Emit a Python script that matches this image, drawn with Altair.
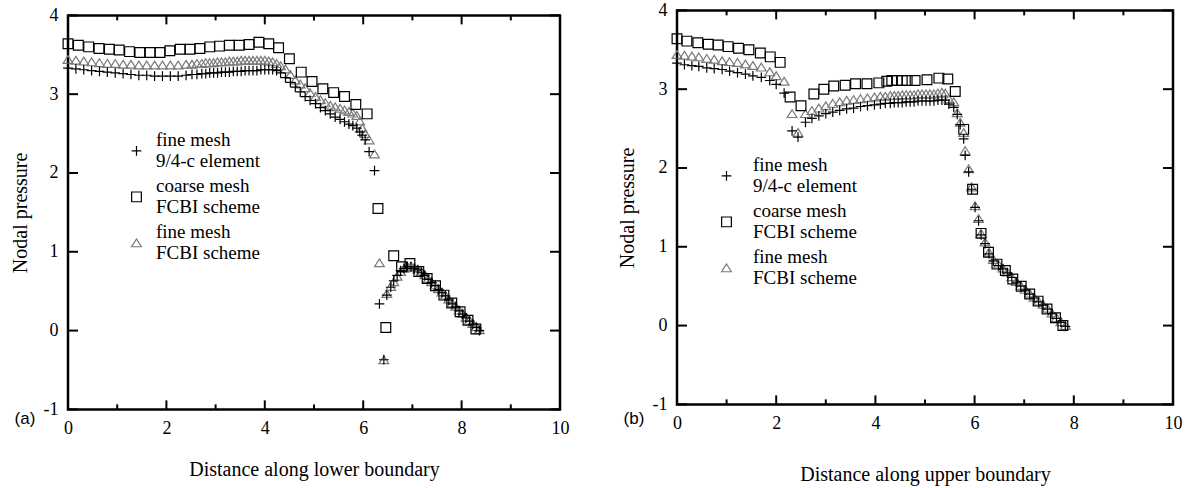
import altair as alt
import pandas as pd

# ---------------- data ----------------
SERIES = ["fine mesh|9/4-c element", "coarse mesh|FCBI scheme", "fine mesh|FCBI scheme"]

# panel (a): distance along lower boundary
a_plus_x = [0.00, 0.16, 0.32, 0.48, 0.64, 0.80, 0.96, 1.12, 1.28, 1.44,
            1.60, 1.76, 1.92, 2.08, 2.24, 2.40, 2.52, 2.62, 2.72, 2.80,
            2.88, 2.96, 3.04, 3.12, 3.20, 3.28, 3.36, 3.44, 3.52, 3.60,
            3.68, 3.76, 3.84, 3.92, 4.00, 4.08, 4.16, 4.24, 4.32, 4.42,
            4.52, 4.62, 4.72, 4.82, 4.92, 5.03, 5.13, 5.23, 5.33, 5.43,
            5.53, 5.62, 5.71, 5.79, 5.87, 5.93, 5.98, 6.04, 6.12, 6.23,
            6.33, 6.42, 6.48, 6.56, 6.62, 6.69, 6.76, 6.83, 6.90, 6.97,
            7.04, 7.11, 7.18, 7.25, 7.32, 7.39, 7.46, 7.53, 7.60, 7.67,
            7.74, 7.81, 7.88, 7.95, 8.02, 8.09, 8.16, 8.23, 8.30, 8.36]
a_plus_y = [3.33, 3.32, 3.31, 3.30, 3.29, 3.28, 3.27, 3.26, 3.25, 3.24,
            3.24, 3.23, 3.23, 3.23, 3.23, 3.24, 3.25, 3.25, 3.26, 3.26,
            3.27, 3.27, 3.27, 3.28, 3.28, 3.28, 3.29, 3.29, 3.29, 3.30,
            3.30, 3.30, 3.30, 3.31, 3.31, 3.31, 3.31, 3.30, 3.27, 3.21,
            3.15, 3.09, 3.03, 2.97, 2.92, 2.88, 2.83, 2.79, 2.75, 2.71,
            2.68, 2.65, 2.62, 2.60, 2.57, 2.52, 2.48, 2.42, 2.27, 2.03,
            0.34, -0.37, 0.45, 0.55, 0.63, 0.70, 0.76, 0.79, 0.81, 0.81,
            0.79, 0.77, 0.74, 0.70, 0.65, 0.61, 0.57, 0.52, 0.48, 0.44,
            0.39, 0.34, 0.30, 0.25, 0.21, 0.16, 0.12, 0.08, 0.04, 0.00]
a_tri_x = a_plus_x
a_tri_y = [3.44, 3.43, 3.42, 3.41, 3.40, 3.39, 3.39, 3.38, 3.38, 3.37,
           3.37, 3.37, 3.37, 3.37, 3.37, 3.38, 3.38, 3.39, 3.39, 3.40,
           3.40, 3.40, 3.41, 3.41, 3.41, 3.42, 3.42, 3.42, 3.43, 3.43,
           3.43, 3.43, 3.43, 3.43, 3.43, 3.42, 3.41, 3.39, 3.36, 3.32,
           3.25, 3.18, 3.13, 3.08, 3.02, 2.97, 2.93, 2.89, 2.86, 2.84,
           2.82, 2.80, 2.78, 2.76, 2.73, 2.66, 2.57, 2.50, 2.42, 2.24,
           0.86, -0.37, 0.47, 0.56, 0.62, 0.69, 0.75, 0.79, 0.81, 0.82,
           0.80, 0.78, 0.75, 0.71, 0.66, 0.62, 0.58, 0.53, 0.49, 0.45,
           0.40, 0.35, 0.31, 0.26, 0.22, 0.17, 0.13, 0.09, 0.05, 0.01]
a_sq_x = [0.00, 0.21, 0.42, 0.63, 0.84, 1.04, 1.25, 1.46, 1.67, 1.87,
          2.07, 2.28, 2.48, 2.68, 2.88, 3.08, 3.28, 3.48, 3.68, 3.88,
          4.08, 4.28, 4.50, 4.74, 4.96, 5.18, 5.40, 5.62, 5.85, 6.08,
          6.30, 6.46, 6.62, 6.78, 6.95, 7.13, 7.30, 7.47, 7.64, 7.80,
          7.97, 8.13, 8.29]
a_sq_y = [3.64, 3.62, 3.60, 3.58, 3.57, 3.56, 3.54, 3.53, 3.53, 3.53,
          3.55, 3.57, 3.57, 3.58, 3.60, 3.61, 3.62, 3.62, 3.63, 3.66,
          3.64, 3.59, 3.45, 3.28, 3.16, 3.07, 3.02, 2.97, 2.87, 2.75,
          1.55, 0.04, 0.95, 0.81, 0.85, 0.75, 0.66, 0.57, 0.45, 0.35,
          0.24, 0.13, 0.02]

# panel (b): distance along upper boundary
b_plus_x = [0.00, 0.15, 0.30, 0.44, 0.60, 0.75, 0.91, 1.06, 1.22, 1.38,
            1.53, 1.70, 1.87, 2.00, 2.16, 2.32, 2.44, 2.59, 2.72, 2.86,
            3.00, 3.14, 3.28, 3.42, 3.56, 3.70, 3.84, 3.98, 4.10, 4.20,
            4.30, 4.38, 4.46, 4.54, 4.62, 4.70, 4.78, 4.86, 4.94, 5.02,
            5.10, 5.18, 5.26, 5.34, 5.41, 5.48, 5.58, 5.65, 5.71, 5.78,
            5.81, 5.88, 5.94, 6.01, 6.08, 6.13, 6.21, 6.29, 6.38, 6.48,
            6.57, 6.66, 6.75, 6.84, 6.93, 7.02, 7.11, 7.20, 7.29, 7.38,
            7.47, 7.56, 7.65, 7.74, 7.83]
b_plus_y = [3.33, 3.31, 3.30, 3.29, 3.27, 3.26, 3.25, 3.23, 3.21, 3.19,
            3.17, 3.15, 3.11, 3.06, 2.95, 2.47, 2.39, 2.58, 2.63, 2.66,
            2.69, 2.71, 2.73, 2.75, 2.76, 2.78, 2.79, 2.80, 2.81, 2.82,
            2.82, 2.83, 2.83, 2.83, 2.84, 2.84, 2.84, 2.85, 2.85, 2.85,
            2.85, 2.85, 2.86, 2.86, 2.86, 2.81, 2.77, 2.68, 2.55, 2.37,
            2.16, 1.95, 1.73, 1.50, 1.33, 1.15, 1.04, 0.91, 0.82, 0.76,
            0.72, 0.67, 0.61, 0.55, 0.50, 0.45, 0.40, 0.35, 0.30, 0.26,
            0.21, 0.15, 0.09, 0.04, -0.01]
b_tri_x = b_plus_x
b_tri_y = [3.44, 3.43, 3.42, 3.41, 3.39, 3.38, 3.36, 3.35, 3.34, 3.32,
           3.30, 3.28, 3.22, 3.17, 3.10, 2.69, 2.45, 2.69, 2.73, 2.76,
           2.79, 2.82, 2.84, 2.86, 2.87, 2.88, 2.89, 2.90, 2.91, 2.91,
           2.92, 2.92, 2.92, 2.93, 2.93, 2.93, 2.93, 2.94, 2.94, 2.94,
           2.94, 2.94, 2.95, 2.96, 2.95, 2.88, 2.84, 2.70, 2.58, 2.45,
           2.22, 1.99, 1.76, 1.52, 1.36, 1.17, 1.06, 0.93, 0.84, 0.78,
           0.73, 0.68, 0.62, 0.56, 0.51, 0.46, 0.41, 0.36, 0.31, 0.27,
           0.22, 0.16, 0.10, 0.05, 0.00]
b_sq_x = [0.00, 0.20, 0.42, 0.63, 0.83, 1.03, 1.24, 1.45, 1.68, 1.88,
          2.08, 2.28, 2.50, 2.76, 2.96, 3.16, 3.39, 3.60, 3.83, 4.07,
          4.23, 4.33, 4.44, 4.54, 4.64, 4.80, 5.04, 5.28, 5.46, 5.61,
          5.78, 5.96, 6.13, 6.28, 6.45, 6.62, 6.77, 6.94, 7.11, 7.28,
          7.46, 7.63, 7.78]
b_sq_y = [3.64, 3.61, 3.59, 3.57, 3.56, 3.54, 3.52, 3.50, 3.46, 3.41,
          3.34, 2.90, 2.79, 2.94, 3.00, 3.04, 3.05, 3.07, 3.07, 3.08,
          3.10, 3.11, 3.11, 3.11, 3.11, 3.11, 3.12, 3.14, 3.13, 2.97,
          2.49, 1.73, 1.17, 0.93, 0.78, 0.70, 0.59, 0.50, 0.40, 0.31,
          0.21, 0.10, 0.00]

X_MAJOR = [0, 2, 4, 6, 8, 10]
X_MINOR = [1, 3, 5, 7, 9]
Y_TICKS = [-1, 0, 1, 2, 3, 4]

# ---------------- styling ----------------
PLUS = "M-1,0L1,0M0,-1L0,1"
TRI = "M0,-0.8L1,0.8L-1,0.8Z"
SERIF = "Liberation Serif"


def series_df(plus_x, plus_y, sq_x, sq_y, tri_x, tri_y):
    rows = []
    for x, y in zip(tri_x, tri_y):
        rows.append({"x": x, "y": y, "series": SERIES[2]})
    for x, y in zip(sq_x, sq_y):
        rows.append({"x": x, "y": y, "series": SERIES[1]})
    for x, y in zip(plus_x, plus_y):
        rows.append({"x": x, "y": y, "series": SERIES[0]})
    return pd.DataFrame(rows)


def panel(df, W, H, xtitle, tag, tag_y, ytitle_x, xtitle_y, leg_x, leg_y, lab_off):
    xs = alt.Scale(domain=[0, 10], nice=False, zero=False)
    ys = alt.Scale(domain=[-1, 4], nice=False, zero=False)
    ax_x = alt.Axis(
        values=X_MAJOR, labelExpr="'' + datum.value", ticks=False, domain=False, grid=False,
        labelFont=SERIF, labelFontSize=18, labelColor="black", labelPadding=10,
        labelFlush=False, title=xtitle, titleFont=SERIF, titleFontSize=20,
        titleFontWeight="normal", titleColor="black", titleX=W / 2,
        titleY=xtitle_y, titleBaseline="middle")
    ax_y = alt.Axis(
        values=Y_TICKS, labelExpr="'' + datum.value", ticks=False, domain=False, grid=False,
        labelFont=SERIF, labelFontSize=18, labelColor="black", labelPadding=10,
        title="Nodal pressure", titleFont=SERIF, titleFontSize=20,
        titleFontWeight="normal", titleColor="black", titleX=ytitle_x,
        titleY=H / 2, titleBaseline="middle")
    leg = alt.Legend(
        title=None, orient="none", legendX=leg_x, legendY=leg_y,
        labelExpr="split(datum.label, '|')",
        labelFont=SERIF, labelFontSize=19, labelColor="black",
        labelBaseline="line-bottom",
        labelOffset=lab_off, labelLimit=0, rowPadding=5, padding=0,
        symbolSize=95, symbolStrokeWidth=1.2,
    )
    pts = alt.Chart(df).mark_point(filled=False, size=95, strokeWidth=1.2, opacity=1).encode(
        x=alt.X("x:Q", scale=xs, axis=ax_x),
        y=alt.Y("y:Q", scale=ys, axis=ax_y),
        color=alt.Color("series:N", scale=alt.Scale(domain=SERIES, range=["#000000", "#000000", "#7a7a7a"]), legend=leg),
        shape=alt.Shape("series:N", scale=alt.Scale(domain=SERIES, range=[PLUS, "square", TRI]), legend=leg),
    )

    def xrules(vals, a, b):
        return alt.Chart(pd.DataFrame({"v": vals})).mark_rule(color="black", strokeWidth=2).encode(
            x=alt.X("v:Q", scale=xs, axis=ax_x), y=alt.value(a), y2=alt.value(b))

    def yrules(vals, a, b):
        return alt.Chart(pd.DataFrame({"v": vals})).mark_rule(color="black", strokeWidth=2).encode(
            y=alt.Y("v:Q", scale=ys, axis=ax_y), x=alt.value(a), x2=alt.value(b))

    tagc = alt.Chart(pd.DataFrame({"t": [tag]})).mark_text(
        font="Liberation Sans", fontSize=17, align="center", baseline="middle", color="black"
    ).encode(text="t:N", x=alt.value(-43), y=alt.value(tag_y))

    return alt.layer(
        pts,
        xrules(X_MAJOR, H, H - 9), xrules(X_MAJOR, 0, 9),
        xrules(X_MINOR, H, H - 5), xrules(X_MINOR, 0, 5),
        yrules(Y_TICKS, 0, 10), yrules(Y_TICKS, W, W - 10),
        tagc,
    ).properties(width=W, height=H)


left = panel(series_df(a_plus_x, a_plus_y, a_sq_x, a_sq_y, a_tri_x, a_tri_y),
             492, 394, "Distance along lower boundary", "(a)", 404, -48, 60, 59, 126, 10)
right = panel(series_df(b_plus_x, b_plus_y, b_sq_x, b_sq_y, b_tri_x, b_tri_y),
              496, 394, "Distance along upper boundary", "(b)", 409, -50, 70, 40, 156, 17)

chart = alt.hconcat(left, right, spacing=44, center=True).resolve_scale(
    color="independent", shape="independent"
).properties(
    padding={"left": 8, "top": 0, "right": 2, "bottom": 0},
    background="white",
).configure_view(stroke="black", strokeWidth=2.5)

chart.save("out.html", embed_options={"renderer": "svg", "actions": False})
